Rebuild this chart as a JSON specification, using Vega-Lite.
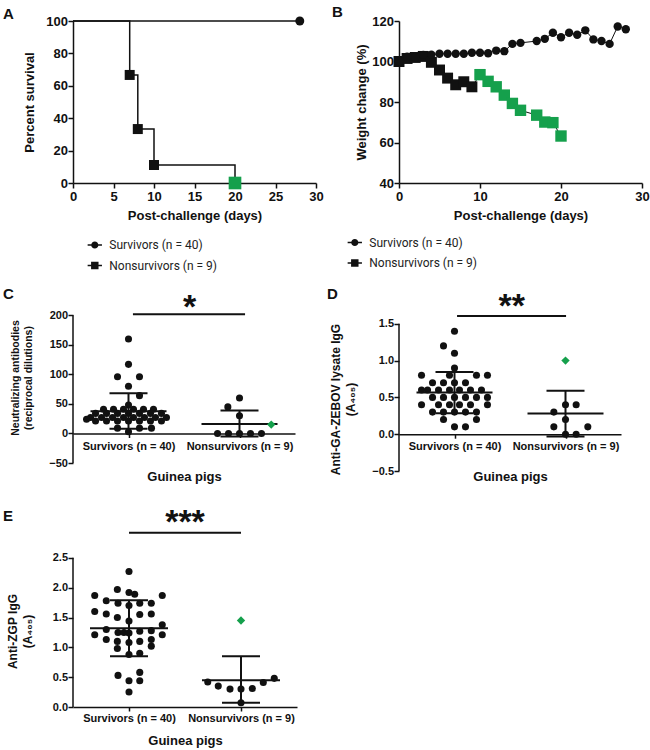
{
  "$schema": "https://vega.github.io/schema/vega-lite/v6.json",
  "background": "white",
  "autosize": {"type": "pad"},
  "padding": {"left": 3, "top": 4, "right": 0, "bottom": 0},
  "config": {
    "view": {"stroke": null},
    "font": "Liberation Sans",
    "axis": {"grid": false, "domainColor": "#111", "domainWidth": 1.5, "tickColor": "#111", "tickWidth": 1.5,
      "labelColor": "#111", "labelFont": "Liberation Sans", "labelFontWeight": "bold", "labelFlush": false, "labelOverlap": false,
      "titleFont": "Liberation Sans", "titleFontWeight": "bold", "titleColor": "#111"},
    "legend": {"title": null, "orient": "none", "direction": "vertical", "symbolSize": 205, "symbolStrokeWidth": 0,
      "labelFont": "Roboto", "labelFontSize": 12, "labelFontWeight": "normal", "labelColor": "#222", "labelOffset": 7, "rowPadding": 6.5, "padding": 0, "labelLimit": 300},
    "title": {"anchor": "start", "frame": "group", "fontSize": 15, "fontWeight": "bold", "color": "#111", "baseline": "alphabetic", "offset": 0, "font": "Liberation Sans"}
  },
  "datasets": {
    "survival": [
      {"group": "Survivors (n = 40)", "day": 0, "percent": 100, "event": false, "tracked": false},
      {"group": "Survivors (n = 40)", "day": 28, "percent": 100, "event": true, "tracked": false},
      {"group": "Nonsurvivors (n = 9)", "day": 0, "percent": 100, "event": false, "tracked": false},
      {"group": "Nonsurvivors (n = 9)", "day": 7, "percent": 66.7, "event": true, "tracked": false},
      {"group": "Nonsurvivors (n = 9)", "day": 8, "percent": 33.3, "event": true, "tracked": false},
      {"group": "Nonsurvivors (n = 9)", "day": 10, "percent": 11.1, "event": true, "tracked": false},
      {"group": "Nonsurvivors (n = 9)", "day": 20, "percent": 0, "event": true, "tracked": true}
    ],
    "weight": [
      {"group": "Survivors (n = 40)", "day": 0, "weight": 100, "tracked": false},
      {"group": "Survivors (n = 40)", "day": 1, "weight": 102.4, "tracked": false},
      {"group": "Survivors (n = 40)", "day": 2, "weight": 102, "tracked": false},
      {"group": "Survivors (n = 40)", "day": 3, "weight": 103.3, "tracked": false},
      {"group": "Survivors (n = 40)", "day": 4, "weight": 103.4, "tracked": false},
      {"group": "Survivors (n = 40)", "day": 5, "weight": 103.8, "tracked": false},
      {"group": "Survivors (n = 40)", "day": 6, "weight": 103.8, "tracked": false},
      {"group": "Survivors (n = 40)", "day": 7, "weight": 103.8, "tracked": false},
      {"group": "Survivors (n = 40)", "day": 8, "weight": 103.8, "tracked": false},
      {"group": "Survivors (n = 40)", "day": 9, "weight": 104.3, "tracked": false},
      {"group": "Survivors (n = 40)", "day": 10, "weight": 104.3, "tracked": false},
      {"group": "Survivors (n = 40)", "day": 11, "weight": 104.1, "tracked": false},
      {"group": "Survivors (n = 40)", "day": 12, "weight": 105.4, "tracked": false},
      {"group": "Survivors (n = 40)", "day": 13, "weight": 105.1, "tracked": false},
      {"group": "Survivors (n = 40)", "day": 14, "weight": 108.7, "tracked": false},
      {"group": "Survivors (n = 40)", "day": 15, "weight": 109.2, "tracked": false},
      {"group": "Survivors (n = 40)", "day": 17, "weight": 110.1, "tracked": false},
      {"group": "Survivors (n = 40)", "day": 18, "weight": 111.2, "tracked": false},
      {"group": "Survivors (n = 40)", "day": 19, "weight": 114.2, "tracked": false},
      {"group": "Survivors (n = 40)", "day": 20, "weight": 112, "tracked": false},
      {"group": "Survivors (n = 40)", "day": 21, "weight": 114.2, "tracked": false},
      {"group": "Survivors (n = 40)", "day": 22, "weight": 113.2, "tracked": false},
      {"group": "Survivors (n = 40)", "day": 23, "weight": 115.4, "tracked": false},
      {"group": "Survivors (n = 40)", "day": 24, "weight": 110.9, "tracked": false},
      {"group": "Survivors (n = 40)", "day": 25, "weight": 110.1, "tracked": false},
      {"group": "Survivors (n = 40)", "day": 26, "weight": 108.7, "tracked": false},
      {"group": "Survivors (n = 40)", "day": 27, "weight": 117.3, "tracked": false},
      {"group": "Survivors (n = 40)", "day": 28, "weight": 115.9, "tracked": false},
      {"group": "Nonsurvivors (n = 9)", "day": 0, "weight": 100, "tracked": false},
      {"group": "Nonsurvivors (n = 9)", "day": 1, "weight": 101.5, "tracked": false},
      {"group": "Nonsurvivors (n = 9)", "day": 2, "weight": 102, "tracked": false},
      {"group": "Nonsurvivors (n = 9)", "day": 3, "weight": 102.5, "tracked": false},
      {"group": "Nonsurvivors (n = 9)", "day": 4, "weight": 99.6, "tracked": false},
      {"group": "Nonsurvivors (n = 9)", "day": 5, "weight": 95.8, "tracked": false},
      {"group": "Nonsurvivors (n = 9)", "day": 6, "weight": 91.8, "tracked": false},
      {"group": "Nonsurvivors (n = 9)", "day": 7, "weight": 88.5, "tracked": false},
      {"group": "Nonsurvivors (n = 9)", "day": 8, "weight": 90, "tracked": false},
      {"group": "Nonsurvivors (n = 9)", "day": 9, "weight": 87.5, "tracked": false},
      {"group": "Nonsurvivors (n = 9)", "day": 10, "weight": 93.5, "tracked": true},
      {"group": "Nonsurvivors (n = 9)", "day": 11, "weight": 90.2, "tracked": true},
      {"group": "Nonsurvivors (n = 9)", "day": 12, "weight": 87.5, "tracked": true},
      {"group": "Nonsurvivors (n = 9)", "day": 13, "weight": 83.4, "tracked": true},
      {"group": "Nonsurvivors (n = 9)", "day": 14, "weight": 79.3, "tracked": true},
      {"group": "Nonsurvivors (n = 9)", "day": 15, "weight": 75.9, "tracked": true},
      {"group": "Nonsurvivors (n = 9)", "day": 17, "weight": 73.5, "tracked": true},
      {"group": "Nonsurvivors (n = 9)", "day": 18, "weight": 70.1, "tracked": true},
      {"group": "Nonsurvivors (n = 9)", "day": 19, "weight": 69.8, "tracked": true},
      {"group": "Nonsurvivors (n = 9)", "day": 20, "weight": 63.2, "tracked": true}
    ],
    "neut": [
      {"group": "Survivors", "pos": 0.5, "value": 160, "tracked": false},
      {"group": "Survivors", "pos": 0.5, "value": 117, "tracked": false},
      {"group": "Survivors", "pos": 0.401, "value": 96, "tracked": false},
      {"group": "Survivors", "pos": 0.599, "value": 96, "tracked": false},
      {"group": "Survivors", "pos": 0.5, "value": 80, "tracked": false},
      {"group": "Survivors", "pos": 0.599, "value": 64, "tracked": false},
      {"group": "Survivors", "pos": 0.5, "value": 48, "tracked": false},
      {"group": "Survivors", "pos": 0.275, "value": 41, "tracked": false},
      {"group": "Survivors", "pos": 0.365, "value": 41, "tracked": false},
      {"group": "Survivors", "pos": 0.455, "value": 41, "tracked": false},
      {"group": "Survivors", "pos": 0.545, "value": 41, "tracked": false},
      {"group": "Survivors", "pos": 0.635, "value": 41, "tracked": false},
      {"group": "Survivors", "pos": 0.725, "value": 41, "tracked": false},
      {"group": "Survivors", "pos": 0.203, "value": 34, "tracked": false},
      {"group": "Survivors", "pos": 0.302, "value": 34, "tracked": false},
      {"group": "Survivors", "pos": 0.401, "value": 34, "tracked": false},
      {"group": "Survivors", "pos": 0.5, "value": 34, "tracked": false},
      {"group": "Survivors", "pos": 0.599, "value": 34, "tracked": false},
      {"group": "Survivors", "pos": 0.698, "value": 34, "tracked": false},
      {"group": "Survivors", "pos": 0.797, "value": 34, "tracked": false},
      {"group": "Survivors", "pos": 0.158, "value": 27, "tracked": false},
      {"group": "Survivors", "pos": 0.257, "value": 27, "tracked": false},
      {"group": "Survivors", "pos": 0.356, "value": 27, "tracked": false},
      {"group": "Survivors", "pos": 0.455, "value": 27, "tracked": false},
      {"group": "Survivors", "pos": 0.545, "value": 27, "tracked": false},
      {"group": "Survivors", "pos": 0.644, "value": 27, "tracked": false},
      {"group": "Survivors", "pos": 0.743, "value": 27, "tracked": false},
      {"group": "Survivors", "pos": 0.842, "value": 27, "tracked": false},
      {"group": "Survivors", "pos": 0.203, "value": 21, "tracked": false},
      {"group": "Survivors", "pos": 0.302, "value": 21, "tracked": false},
      {"group": "Survivors", "pos": 0.401, "value": 21, "tracked": false},
      {"group": "Survivors", "pos": 0.5, "value": 21, "tracked": false},
      {"group": "Survivors", "pos": 0.599, "value": 21, "tracked": false},
      {"group": "Survivors", "pos": 0.698, "value": 21, "tracked": false},
      {"group": "Survivors", "pos": 0.797, "value": 21, "tracked": false},
      {"group": "Survivors", "pos": 0.122, "value": 24, "tracked": false},
      {"group": "Survivors", "pos": 0.401, "value": 9, "tracked": false},
      {"group": "Survivors", "pos": 0.599, "value": 9, "tracked": false},
      {"group": "Survivors", "pos": 0.707, "value": 9, "tracked": false},
      {"group": "Survivors", "pos": 0.5, "value": 3, "tracked": false},
      {"group": "Nonsurvivors", "pos": 1.5, "value": 60, "tracked": false},
      {"group": "Nonsurvivors", "pos": 1.395, "value": 45, "tracked": false},
      {"group": "Nonsurvivors", "pos": 1.5, "value": 30, "tracked": false},
      {"group": "Nonsurvivors", "pos": 1.302, "value": 0, "tracked": false},
      {"group": "Nonsurvivors", "pos": 1.401, "value": 0, "tracked": false},
      {"group": "Nonsurvivors", "pos": 1.5, "value": 0, "tracked": false},
      {"group": "Nonsurvivors", "pos": 1.599, "value": 0, "tracked": false},
      {"group": "Nonsurvivors", "pos": 1.698, "value": 0, "tracked": false},
      {"group": "Nonsurvivors", "pos": 1.786, "value": 15, "tracked": true}
    ],
    "lysate": [
      {"group": "Survivors", "pos": 0.5, "value": 1.4, "tracked": false},
      {"group": "Survivors", "pos": 0.401, "value": 1.2, "tracked": false},
      {"group": "Survivors", "pos": 0.5, "value": 1.1, "tracked": false},
      {"group": "Survivors", "pos": 0.5, "value": 0.9, "tracked": false},
      {"group": "Survivors", "pos": 0.203, "value": 0.8, "tracked": false},
      {"group": "Survivors", "pos": 0.455, "value": 0.8, "tracked": false},
      {"group": "Survivors", "pos": 0.698, "value": 0.8, "tracked": false},
      {"group": "Survivors", "pos": 0.797, "value": 0.8, "tracked": false},
      {"group": "Survivors", "pos": 0.302, "value": 0.7, "tracked": false},
      {"group": "Survivors", "pos": 0.401, "value": 0.7, "tracked": false},
      {"group": "Survivors", "pos": 0.5, "value": 0.7, "tracked": false},
      {"group": "Survivors", "pos": 0.599, "value": 0.7, "tracked": false},
      {"group": "Survivors", "pos": 0.203, "value": 0.6, "tracked": false},
      {"group": "Survivors", "pos": 0.257, "value": 0.6, "tracked": false},
      {"group": "Survivors", "pos": 0.356, "value": 0.6, "tracked": false},
      {"group": "Survivors", "pos": 0.455, "value": 0.6, "tracked": false},
      {"group": "Survivors", "pos": 0.545, "value": 0.6, "tracked": false},
      {"group": "Survivors", "pos": 0.644, "value": 0.6, "tracked": false},
      {"group": "Survivors", "pos": 0.743, "value": 0.6, "tracked": false},
      {"group": "Survivors", "pos": 0.302, "value": 0.5, "tracked": false},
      {"group": "Survivors", "pos": 0.401, "value": 0.5, "tracked": false},
      {"group": "Survivors", "pos": 0.5, "value": 0.5, "tracked": false},
      {"group": "Survivors", "pos": 0.599, "value": 0.5, "tracked": false},
      {"group": "Survivors", "pos": 0.698, "value": 0.5, "tracked": false},
      {"group": "Survivors", "pos": 0.797, "value": 0.5, "tracked": false},
      {"group": "Survivors", "pos": 0.203, "value": 0.4, "tracked": false},
      {"group": "Survivors", "pos": 0.356, "value": 0.4, "tracked": false},
      {"group": "Survivors", "pos": 0.455, "value": 0.4, "tracked": false},
      {"group": "Survivors", "pos": 0.545, "value": 0.4, "tracked": false},
      {"group": "Survivors", "pos": 0.644, "value": 0.4, "tracked": false},
      {"group": "Survivors", "pos": 0.797, "value": 0.4, "tracked": false},
      {"group": "Survivors", "pos": 0.302, "value": 0.3, "tracked": false},
      {"group": "Survivors", "pos": 0.401, "value": 0.3, "tracked": false},
      {"group": "Survivors", "pos": 0.5, "value": 0.3, "tracked": false},
      {"group": "Survivors", "pos": 0.599, "value": 0.3, "tracked": false},
      {"group": "Survivors", "pos": 0.698, "value": 0.3, "tracked": false},
      {"group": "Survivors", "pos": 0.401, "value": 0.2, "tracked": false},
      {"group": "Survivors", "pos": 0.698, "value": 0.2, "tracked": false},
      {"group": "Survivors", "pos": 0.5, "value": 0.1, "tracked": false},
      {"group": "Survivors", "pos": 0.599, "value": 0.1, "tracked": false},
      {"group": "Nonsurvivors", "pos": 1.5, "value": 0.4, "tracked": false},
      {"group": "Nonsurvivors", "pos": 1.596, "value": 0.4, "tracked": false},
      {"group": "Nonsurvivors", "pos": 1.395, "value": 0.3, "tracked": false},
      {"group": "Nonsurvivors", "pos": 1.5, "value": 0.2, "tracked": false},
      {"group": "Nonsurvivors", "pos": 1.395, "value": 0.1, "tracked": false},
      {"group": "Nonsurvivors", "pos": 1.701, "value": 0.1, "tracked": false},
      {"group": "Nonsurvivors", "pos": 1.5, "value": 0, "tracked": false},
      {"group": "Nonsurvivors", "pos": 1.596, "value": 0, "tracked": false},
      {"group": "Nonsurvivors", "pos": 1.5, "value": 1.0, "tracked": true}
    ],
    "zgp": [
      {"group": "Survivors", "pos": 0.5, "value": 2.27, "tracked": false},
      {"group": "Survivors", "pos": 0.396, "value": 1.97, "tracked": false},
      {"group": "Survivors", "pos": 0.5, "value": 1.92, "tracked": false},
      {"group": "Survivors", "pos": 0.551, "value": 1.89, "tracked": false},
      {"group": "Survivors", "pos": 0.194, "value": 1.87, "tracked": false},
      {"group": "Survivors", "pos": 0.797, "value": 1.87, "tracked": false},
      {"group": "Survivors", "pos": 0.297, "value": 1.78, "tracked": false},
      {"group": "Survivors", "pos": 0.402, "value": 1.74, "tracked": false},
      {"group": "Survivors", "pos": 0.5, "value": 1.70, "tracked": false},
      {"group": "Survivors", "pos": 0.596, "value": 1.74, "tracked": false},
      {"group": "Survivors", "pos": 0.699, "value": 1.74, "tracked": false},
      {"group": "Survivors", "pos": 0.194, "value": 1.60, "tracked": false},
      {"group": "Survivors", "pos": 0.297, "value": 1.56, "tracked": false},
      {"group": "Survivors", "pos": 0.396, "value": 1.50, "tracked": false},
      {"group": "Survivors", "pos": 0.596, "value": 1.55, "tracked": false},
      {"group": "Survivors", "pos": 0.699, "value": 1.56, "tracked": false},
      {"group": "Survivors", "pos": 0.5, "value": 1.44, "tracked": false},
      {"group": "Survivors", "pos": 0.797, "value": 1.38, "tracked": false},
      {"group": "Survivors", "pos": 0.194, "value": 1.21, "tracked": false},
      {"group": "Survivors", "pos": 0.297, "value": 1.30, "tracked": false},
      {"group": "Survivors", "pos": 0.402, "value": 1.25, "tracked": false},
      {"group": "Survivors", "pos": 0.455, "value": 1.25, "tracked": false},
      {"group": "Survivors", "pos": 0.5, "value": 1.24, "tracked": false},
      {"group": "Survivors", "pos": 0.596, "value": 1.27, "tracked": false},
      {"group": "Survivors", "pos": 0.699, "value": 1.28, "tracked": false},
      {"group": "Survivors", "pos": 0.797, "value": 1.21, "tracked": false},
      {"group": "Survivors", "pos": 0.297, "value": 1.13, "tracked": false},
      {"group": "Survivors", "pos": 0.396, "value": 1.10, "tracked": false},
      {"group": "Survivors", "pos": 0.5, "value": 1.08, "tracked": false},
      {"group": "Survivors", "pos": 0.596, "value": 1.10, "tracked": false},
      {"group": "Survivors", "pos": 0.699, "value": 1.13, "tracked": false},
      {"group": "Survivors", "pos": 0.396, "value": 0.98, "tracked": false},
      {"group": "Survivors", "pos": 0.699, "value": 1.02, "tracked": false},
      {"group": "Survivors", "pos": 0.5, "value": 0.88, "tracked": false},
      {"group": "Survivors", "pos": 0.596, "value": 0.90, "tracked": false},
      {"group": "Survivors", "pos": 0.402, "value": 0.53, "tracked": false},
      {"group": "Survivors", "pos": 0.596, "value": 0.58, "tracked": false},
      {"group": "Survivors", "pos": 0.5, "value": 0.44, "tracked": false},
      {"group": "Survivors", "pos": 0.596, "value": 0.44, "tracked": false},
      {"group": "Survivors", "pos": 0.5, "value": 0.25, "tracked": false},
      {"group": "Nonsurvivors", "pos": 1.203, "value": 0.42, "tracked": false},
      {"group": "Nonsurvivors", "pos": 1.297, "value": 0.35, "tracked": false},
      {"group": "Nonsurvivors", "pos": 1.402, "value": 0.30, "tracked": false},
      {"group": "Nonsurvivors", "pos": 1.5, "value": 0.30, "tracked": false},
      {"group": "Nonsurvivors", "pos": 1.601, "value": 0.31, "tracked": false},
      {"group": "Nonsurvivors", "pos": 1.699, "value": 0.41, "tracked": false},
      {"group": "Nonsurvivors", "pos": 1.797, "value": 0.48, "tracked": false},
      {"group": "Nonsurvivors", "pos": 1.5, "value": 0.07, "tracked": false},
      {"group": "Nonsurvivors", "pos": 1.5, "value": 1.45, "tracked": true}
    ],
    "summary": [
      {"assay": "neut", "group": "Survivors", "pos": 0.5, "mean": 37.5, "lower": 8, "upper": 68},
      {"assay": "neut", "group": "Nonsurvivors", "pos": 1.5, "mean": 16, "lower": -5, "upper": 39},
      {"assay": "lysate", "group": "Survivors", "pos": 0.5, "mean": 0.565, "lower": 0.285, "upper": 0.845},
      {"assay": "lysate", "group": "Nonsurvivors", "pos": 1.5, "mean": 0.28, "lower": -0.03, "upper": 0.59},
      {"assay": "zgp", "group": "Survivors", "pos": 0.5, "mean": 1.32, "lower": 0.85, "upper": 1.79},
      {"assay": "zgp", "group": "Nonsurvivors", "pos": 1.5, "mean": 0.45, "lower": 0.07, "upper": 0.85}
    ],
    "significance": [
      {"assay": "neut", "from": 0.54, "to": 1.55, "y": 202, "stars": "*", "labelPos": 1.05, "labelY": 195},
      {"assay": "lysate", "from": 0.523, "to": 1.505, "y": 1.605, "stars": "**", "labelPos": 1.015, "labelY": 1.589},
      {"assay": "zgp", "from": 0.5, "to": 1.5, "y": 2.92, "stars": "***", "labelPos": 1.0, "labelY": 2.92}
    ]
  },
  "columns": 2,
  "spacing": {"row": 26, "column": 83},
  "bounds": "flush",
  "align": "each",
  "resolve": {"scale": {"shape": "independent"}, "legend": {"shape": "independent"}},
  "concat": [
    {
      "width": 243, "height": 162,
      "title": {"text": "A", "dx": -70, "dy": 11},
      "data": {"name": "survival"},
      "encoding": {
        "x": {"field": "day", "type": "quantitative", "scale": {"domain": [0, 30], "nice": false},
          "axis": {"values": [0, 5, 10, 15, 20, 25, 30], "title": "Post-challenge (days)", "labelFontSize": 13, "titleFontSize": 13, "tickSize": 5, "labelPadding": 2, "titlePadding": 6}},
        "y": {"field": "percent", "type": "quantitative", "scale": {"domain": [0, 100], "nice": false},
          "axis": {"values": [0, 20, 40, 60, 80, 100], "title": "Percent survival", "labelFontSize": 13, "titleFontSize": 13, "tickSize": 5, "labelPadding": 0.5, "titlePadding": 9}}
      },
      "layer": [
        {"mark": {"type": "line", "interpolate": "step-after", "color": "#111", "strokeWidth": 1.5}, "encoding": {"detail": {"field": "group"}}},
        {"transform": [{"filter": "datum.event && datum.group === 'Survivors (n = 40)'"}],
          "mark": {"type": "point", "shape": "circle", "filled": true, "color": "#111", "opacity": 1, "size": 80}},
        {"transform": [{"filter": "datum.event && datum.group === 'Nonsurvivors (n = 9)' && !datum.tracked"}],
          "mark": {"type": "point", "shape": "square", "filled": true, "color": "#111", "opacity": 1, "size": 100}},
        {"transform": [{"filter": "datum.tracked"}], "mark": {"type": "point", "shape": "square", "filled": true, "color": "#15a04c", "opacity": 1, "size": 160}},
        {"transform": [{"filter": "false"}],
          "mark": {"type": "point", "filled": true, "color": "#111", "opacity": 1},
          "encoding": {"shape": {"field": "group", "type": "nominal",
            "scale": {"domain": ["Survivors (n = 40)", "Nonsurvivors (n = 9)"],
              "range": ["M-1,-0.1H1V0.1H-1Z M0.5,0A0.5,0.5,0,1,1,-0.5,0A0.5,0.5,0,1,1,0.5,0Z", "M-1,-0.1H1V0.1H-1Z M-0.52,-0.52H0.52V0.52H-0.52Z"]},
            "legend": {"legendX": 14.3, "legendY": 216.5}}}}
      ]
    },
    {
      "width": 243, "height": 162,
      "title": {"text": "B", "dx": -67, "dy": 8.7},
      "data": {"name": "weight"},
      "encoding": {
        "x": {"field": "day", "type": "quantitative", "scale": {"domain": [0, 30], "nice": false},
          "axis": {"values": [0, 10, 20, 30], "title": "Post-challenge (days)", "labelFontSize": 13, "titleFontSize": 13, "tickSize": 5, "labelPadding": 2, "titlePadding": 6}},
        "y": {"field": "weight", "type": "quantitative", "scale": {"domain": [40, 120], "nice": false, "zero": false},
          "axis": {"values": [40, 60, 80, 100, 120], "title": "Weight change (%)", "labelFontSize": 13, "titleFontSize": 13, "tickSize": 5, "labelPadding": 0.5, "titlePadding": 3}}
      },
      "layer": [
        {"mark": {"type": "line", "color": "#111", "strokeWidth": 1}, "encoding": {"detail": {"field": "group"}}},
        {"transform": [{"filter": "datum.group === 'Nonsurvivors (n = 9)' && !datum.tracked"}],
          "mark": {"type": "point", "shape": "square", "filled": true, "color": "#111", "opacity": 1, "size": 120}},
        {"transform": [{"filter": "datum.group === 'Survivors (n = 40)'"}],
          "mark": {"type": "point", "shape": "circle", "filled": true, "color": "#111", "opacity": 1, "size": 70}},
        {"transform": [{"filter": "datum.tracked"}], "mark": {"type": "point", "shape": "square", "filled": true, "color": "#15a04c", "opacity": 1, "size": 130}},
        {"transform": [{"filter": "false"}],
          "mark": {"type": "point", "filled": true, "color": "#111", "opacity": 1},
          "encoding": {"shape": {"field": "group", "type": "nominal",
            "scale": {"domain": ["Survivors (n = 40)", "Nonsurvivors (n = 9)"],
              "range": ["M-1,-0.1H1V0.1H-1Z M0.5,0A0.5,0.5,0,1,1,-0.5,0A0.5,0.5,0,1,1,0.5,0Z", "M-1,-0.1H1V0.1H-1Z M-0.52,-0.52H0.52V0.52H-0.52Z"]},
            "legend": {"legendX": -51.7, "legendY": 214}}}}
      ]
    },
    {
      "width": 222, "height": 254,
      "title": {"text": "C", "dx": -70, "dy": 97},
      "layer": [
        {"data": {"name": "neut"}, "transform": [{"filter": "!datum.tracked"}],
          "mark": {"type": "circle", "color": "#111", "opacity": 1, "size": 50},
          "encoding": {
            "x": {"field": "pos", "type": "quantitative", "scale": {"domain": [0, 2], "nice": false, "zero": false},
              "axis": {"values": [0.5, 1.5], "labelExpr": "datum.value < 1 ? 'Survivors (n = 40)' : 'Nonsurvivors (n = 9)'", "title": "Guinea pigs", "offset": -29.5, "tickSize": 4, "labelPadding": 2.5, "labelFontSize": 11, "titleFontSize": 13, "titlePadding": 19}},
            "y": {"field": "value", "type": "quantitative", "scale": {"domain": [-50, 380], "nice": false, "zero": false},
              "axis": {"values": [-50, 0, 50, 100, 150, 200], "domain": false, "title": ["Neutralizing antibodies", "(reciprocal dilutions)"], "titleY": 168.5, "titleFontSize": 10.5, "titleLineHeight": 13.3, "labelFontSize": 11, "tickSize": 5, "labelPadding": 0.5, "titlePadding": 15}}
          }},
        {"data": {"values": [{}]}, "mark": {"type": "rule", "color": "#111", "strokeWidth": 1.5},
          "encoding": {"x": {"datum": 0}, "y": {"datum": -50}, "y2": {"datum": 200}}},
        {"data": {"name": "summary"}, "transform": [{"filter": "datum.assay === 'neut'"}],
          "mark": {"type": "rule", "color": "#111", "strokeWidth": 2},
          "encoding": {"x": {"field": "pos", "type": "quantitative"}, "y": {"field": "lower", "type": "quantitative"}, "y2": {"field": "upper"}}},
        {"data": {"name": "summary"}, "transform": [{"filter": "datum.assay === 'neut'"}],
          "mark": {"type": "tick", "orient": "horizontal", "color": "#111", "opacity": 1, "size": 76, "thickness": 2},
          "encoding": {"x": {"field": "pos", "type": "quantitative"}, "y": {"field": "mean", "type": "quantitative"}}},
        {"data": {"name": "summary"}, "transform": [{"filter": "datum.assay === 'neut'"}],
          "mark": {"type": "tick", "orient": "horizontal", "color": "#111", "opacity": 1, "size": 38, "thickness": 2},
          "encoding": {"x": {"field": "pos", "type": "quantitative"}, "y": {"field": "upper", "type": "quantitative"}}},
        {"data": {"name": "summary"}, "transform": [{"filter": "datum.assay === 'neut'"}],
          "mark": {"type": "tick", "orient": "horizontal", "color": "#111", "opacity": 1, "size": 38, "thickness": 2},
          "encoding": {"x": {"field": "pos", "type": "quantitative"}, "y": {"field": "lower", "type": "quantitative"}}},
        {"data": {"name": "neut"}, "transform": [{"filter": "datum.tracked"}],
          "mark": {"type": "point", "shape": "diamond", "filled": true, "color": "#15a04c", "opacity": 1, "size": 70},
          "encoding": {"x": {"field": "pos", "type": "quantitative"}, "y": {"field": "value", "type": "quantitative"}}},
        {"data": {"name": "significance"}, "transform": [{"filter": "datum.assay === 'neut'"}],
          "mark": {"type": "rule", "color": "#111", "strokeWidth": 2},
          "encoding": {"x": {"field": "from", "type": "quantitative"}, "x2": {"field": "to"}, "y": {"field": "y", "type": "quantitative"}}},
        {"data": {"name": "significance"}, "transform": [{"filter": "datum.assay === 'neut'"}],
          "mark": {"type": "text", "color": "#111", "fontSize": 34, "fontWeight": "bold", "align": "center", "baseline": "alphabetic", "font": "Liberation Sans"},
          "encoding": {"x": {"field": "labelPos", "type": "quantitative"}, "y": {"field": "labelY", "type": "quantitative"}, "text": {"field": "stars"}}}
      ]
    },
    {
      "width": 222, "height": 262,
      "title": {"text": "D", "dx": -72, "dy": 97},
      "layer": [
        {"data": {"name": "lysate"}, "transform": [{"filter": "!datum.tracked"}],
          "mark": {"type": "circle", "color": "#111", "opacity": 1, "size": 50},
          "encoding": {
            "x": {"field": "pos", "type": "quantitative", "scale": {"domain": [0, 2], "nice": false, "zero": false},
              "axis": {"values": [0.5, 1.5], "labelExpr": "datum.value < 1 ? 'Survivors (n = 40)' : 'Nonsurvivors (n = 9)'", "title": "Guinea pigs", "offset": -36.8, "tickSize": 4, "labelPadding": 2.5, "labelFontSize": 11, "titleFontSize": 13, "titlePadding": 19}},
            "y": {"field": "value", "type": "quantitative", "scale": {"domain": [-0.5, 3.06], "nice": false, "zero": false},
              "axis": {"values": [-0.5, 0, 0.5, 1, 1.5], "format": ".1f", "domain": false, "title": ["Anti-GA-ZEBOV lysate IgG", "(A₄₀₅)"], "titleY": 190, "titleFontSize": 12, "titleLineHeight": 15, "labelFontSize": 11, "tickSize": 5, "labelPadding": 0.5, "titlePadding": 14}}
          }},
        {"data": {"values": [{}]}, "mark": {"type": "rule", "color": "#111", "strokeWidth": 1.5},
          "encoding": {"x": {"datum": 0}, "y": {"datum": -0.5}, "y2": {"datum": 1.5}}},
        {"data": {"name": "summary"}, "transform": [{"filter": "datum.assay === 'lysate'"}],
          "mark": {"type": "rule", "color": "#111", "strokeWidth": 2},
          "encoding": {"x": {"field": "pos", "type": "quantitative"}, "y": {"field": "lower", "type": "quantitative"}, "y2": {"field": "upper"}}},
        {"data": {"name": "summary"}, "transform": [{"filter": "datum.assay === 'lysate'"}],
          "mark": {"type": "tick", "orient": "horizontal", "color": "#111", "opacity": 1, "size": 76, "thickness": 2},
          "encoding": {"x": {"field": "pos", "type": "quantitative"}, "y": {"field": "mean", "type": "quantitative"}}},
        {"data": {"name": "summary"}, "transform": [{"filter": "datum.assay === 'lysate'"}],
          "mark": {"type": "tick", "orient": "horizontal", "color": "#111", "opacity": 1, "size": 38, "thickness": 2},
          "encoding": {"x": {"field": "pos", "type": "quantitative"}, "y": {"field": "upper", "type": "quantitative"}}},
        {"data": {"name": "summary"}, "transform": [{"filter": "datum.assay === 'lysate'"}],
          "mark": {"type": "tick", "orient": "horizontal", "color": "#111", "opacity": 1, "size": 38, "thickness": 2},
          "encoding": {"x": {"field": "pos", "type": "quantitative"}, "y": {"field": "lower", "type": "quantitative"}}},
        {"data": {"name": "lysate"}, "transform": [{"filter": "datum.tracked"}],
          "mark": {"type": "point", "shape": "diamond", "filled": true, "color": "#15a04c", "opacity": 1, "size": 70},
          "encoding": {"x": {"field": "pos", "type": "quantitative"}, "y": {"field": "value", "type": "quantitative"}}},
        {"data": {"name": "significance"}, "transform": [{"filter": "datum.assay === 'lysate'"}],
          "mark": {"type": "rule", "color": "#111", "strokeWidth": 2},
          "encoding": {"x": {"field": "from", "type": "quantitative"}, "x2": {"field": "to"}, "y": {"field": "y", "type": "quantitative"}}},
        {"data": {"name": "significance"}, "transform": [{"filter": "datum.assay === 'lysate'"}],
          "mark": {"type": "text", "color": "#111", "fontSize": 34, "fontWeight": "bold", "align": "center", "baseline": "alphabetic", "font": "Liberation Sans"},
          "encoding": {"x": {"field": "labelPos", "type": "quantitative"}, "y": {"field": "labelY", "type": "quantitative"}, "text": {"field": "stars"}}}
      ]
    },
    {
      "width": 224, "height": 210,
      "title": {"text": "E", "dx": -70, "dy": 31},
      "layer": [
        {"data": {"name": "zgp"}, "transform": [{"filter": "!datum.tracked"}],
          "mark": {"type": "circle", "color": "#111", "opacity": 1, "size": 50},
          "encoding": {
            "x": {"field": "pos", "type": "quantitative", "scale": {"domain": [0, 2], "nice": false, "zero": false},
              "axis": {"values": [0.5, 1.5], "labelExpr": "datum.value < 1 ? 'Survivors (n = 40)' : 'Nonsurvivors (n = 9)'", "title": "Guinea pigs", "tickSize": 4, "labelPadding": 1.7, "labelFontSize": 11, "titleFontSize": 13, "titlePadding": 11}},
            "y": {"field": "value", "type": "quantitative", "scale": {"domain": [0, 3.52], "nice": false, "zero": false},
              "axis": {"values": [0, 0.5, 1, 1.5, 2, 2.5], "format": ".1f", "domain": false, "title": ["Anti-ZGP IgG", "(A₄₀₅)"], "titleY": 134, "titleFontSize": 12, "titleLineHeight": 15, "labelFontSize": 11, "tickSize": 5, "labelPadding": 0.5, "titlePadding": 18}}
          }},
        {"data": {"values": [{}]}, "mark": {"type": "rule", "color": "#111", "strokeWidth": 1.5},
          "encoding": {"x": {"datum": 0}, "y": {"datum": 0}, "y2": {"datum": 2.5}}},
        {"data": {"name": "summary"}, "transform": [{"filter": "datum.assay === 'zgp'"}],
          "mark": {"type": "rule", "color": "#111", "strokeWidth": 2},
          "encoding": {"x": {"field": "pos", "type": "quantitative"}, "y": {"field": "lower", "type": "quantitative"}, "y2": {"field": "upper"}}},
        {"data": {"name": "summary"}, "transform": [{"filter": "datum.assay === 'zgp'"}],
          "mark": {"type": "tick", "orient": "horizontal", "color": "#111", "opacity": 1, "size": 78, "thickness": 2},
          "encoding": {"x": {"field": "pos", "type": "quantitative"}, "y": {"field": "mean", "type": "quantitative"}}},
        {"data": {"name": "summary"}, "transform": [{"filter": "datum.assay === 'zgp'"}],
          "mark": {"type": "tick", "orient": "horizontal", "color": "#111", "opacity": 1, "size": 38, "thickness": 2},
          "encoding": {"x": {"field": "pos", "type": "quantitative"}, "y": {"field": "upper", "type": "quantitative"}}},
        {"data": {"name": "summary"}, "transform": [{"filter": "datum.assay === 'zgp'"}],
          "mark": {"type": "tick", "orient": "horizontal", "color": "#111", "opacity": 1, "size": 38, "thickness": 2},
          "encoding": {"x": {"field": "pos", "type": "quantitative"}, "y": {"field": "lower", "type": "quantitative"}}},
        {"data": {"name": "zgp"}, "transform": [{"filter": "datum.tracked"}],
          "mark": {"type": "point", "shape": "diamond", "filled": true, "color": "#15a04c", "opacity": 1, "size": 70},
          "encoding": {"x": {"field": "pos", "type": "quantitative"}, "y": {"field": "value", "type": "quantitative"}}},
        {"data": {"name": "significance"}, "transform": [{"filter": "datum.assay === 'zgp'"}],
          "mark": {"type": "rule", "color": "#111", "strokeWidth": 2},
          "encoding": {"x": {"field": "from", "type": "quantitative"}, "x2": {"field": "to"}, "y": {"field": "y", "type": "quantitative"}}},
        {"data": {"name": "significance"}, "transform": [{"filter": "datum.assay === 'zgp'"}],
          "mark": {"type": "text", "color": "#111", "fontSize": 34, "fontWeight": "bold", "align": "center", "baseline": "alphabetic", "font": "Liberation Sans"},
          "encoding": {"x": {"field": "labelPos", "type": "quantitative"}, "y": {"field": "labelY", "type": "quantitative"}, "text": {"field": "stars"}}}
      ]
    }
  ]
}
